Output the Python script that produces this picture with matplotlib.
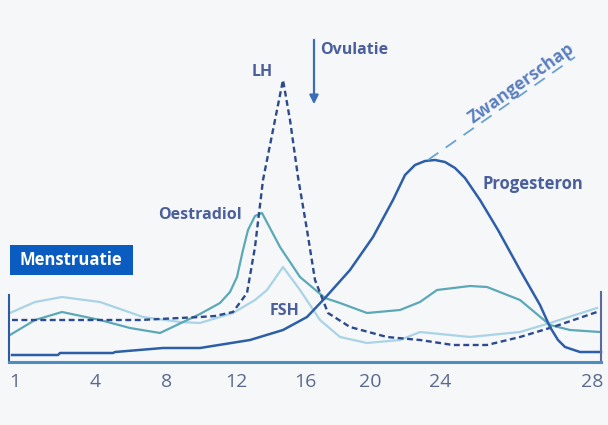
import matplotlib.pyplot as plt
from matplotlib.patches import Rectangle

# schematic cycle axis: positions along the chart, label = cycle day
tick_pos = [15, 95, 167, 236, 305, 370, 440, 592]
tick_labels = ['1', '4', '8', '12', '16', '20', '24', '28']

# hormone levels (arbitrary units)
prog_x = [12, 58, 60, 113, 115, 163, 200, 250, 283, 307, 325, 350, 373, 393, 405,
          415, 425, 435, 445, 455, 465, 480, 498, 520, 540, 550, 558, 565, 580, 601]
prog_y = [7, 7, 9, 9, 10, 14, 14, 22, 32, 45, 64, 92, 125, 162, 187,
          197, 201, 202, 200, 194, 184, 162, 132, 92, 57, 35, 22, 15, 10, 10]

lh_x = [12, 140, 200, 215, 233, 247, 255, 263, 274, 283, 290, 298, 307, 315,
        328, 350, 387, 420, 453, 487, 520, 553, 597]
lh_y = [42, 42, 45, 46, 50, 69, 115, 182, 237, 282, 242, 185, 132, 82,
        49, 35, 25, 22, 17, 17, 25, 35, 50]

oes_x = [10, 35, 62, 100, 130, 160, 200, 220, 230, 237, 243, 248, 255, 262, 280, 300, 325,
         340, 367, 400, 420, 437, 470, 487, 520, 550, 570, 600]
oes_y = [27, 42, 50, 42, 34, 29, 48, 59, 70, 85, 112, 132, 146, 149, 115, 85, 64,
         59, 49, 52, 60, 72, 76, 75, 62, 37, 32, 30]

fsh_x = [10, 35, 62, 100, 143, 180, 200, 233, 255, 267, 283, 300, 320, 340,
         367, 400, 420, 470, 520, 550, 597]
fsh_y = [49, 60, 65, 60, 45, 40, 39, 49, 62, 72, 95, 72, 42, 25,
         19, 22, 30, 25, 30, 39, 54]

preg_x = [428, 575]
preg_y = [202, 305]

bg = '#f6f7f9'
txt = '#4b5f9c'
font = ['Open Sans', 'DejaVu Sans']

fig = plt.figure(figsize=(6.08, 4.25), dpi=100, facecolor=bg)
ax = fig.add_axes([9/608, 63/425, 592/608, 362/425])
ax.set_facecolor(bg)
ax.set_xlim(9, 601)
ax.set_ylim(0, 362)

ax.plot(fsh_x, fsh_y, color='#a9d3e6', lw=1.6, clip_on=False)
ax.plot(oes_x, oes_y, color='#5ba8b6', lw=1.6, clip_on=False)
ax.plot(lh_x, lh_y, color='#2c4a8c', lw=1.7, ls=(0, (2.5, 1.5)), clip_on=False)
ax.plot(prog_x, prog_y, color='#2d5ea8', lw=1.8, clip_on=False)
ax.plot(preg_x, preg_y, color='#6aa2d4', lw=1.3, ls=(0, (7, 5)))

# spines
ax.spines['top'].set_visible(False)
ax.spines['bottom'].set_color('#4a8fc0')
ax.spines['bottom'].set_linewidth(2.2)
ax.spines['left'].set_color('#2f5aa0')
ax.spines['left'].set_linewidth(1.5)
ax.spines['left'].set_bounds(0, 67)
ax.spines['right'].set_color('#5a6a9a')
ax.spines['right'].set_linewidth(1.5)
ax.spines['right'].set_bounds(0, 70)

ax.set_yticks([])
ax.set_xticks(tick_pos, tick_labels)
ax.tick_params(axis='x', length=0, pad=8, labelcolor='#5b6a8c', labelsize=14)
for lbl in ax.get_xticklabels():
    lbl.set_family(font)

# menstruatie box
ax.add_patch(Rectangle((10, 87), 123, 30, facecolor='#0b5cc0', edgecolor='none', clip_on=False))
ax.text(71, 102, 'Menstruatie', color='white', fontsize=12, fontweight='bold',
        family=font, ha='center', va='center')

# ovulation arrow
ax.annotate('', xy=(314, 255), xytext=(314, 325),
            arrowprops=dict(arrowstyle='-|>', color='#3a6cb8', lw=1.6, mutation_scale=13))
ax.text(320, 312, 'Ovulatie', color=txt, fontsize=11.5, fontweight='bold', family=font,
        ha='left', va='center')

ax.text(262, 290, 'LH', color=txt, fontsize=11.5, fontweight='bold', family=font,
        ha='center', va='center')
ax.text(200, 147, 'Oestradiol', color=txt, fontsize=11.5, fontweight='bold', family=font,
        ha='center', va='center')
ax.text(285, 51, 'FSH', color=txt, fontsize=11.5, fontweight='bold', family=font,
        ha='center', va='center')
ax.text(483, 178, 'Progesteron', color=txt, fontsize=12, fontweight='bold', family=font,
        ha='left', va='center')
ax.text(521, 279, 'Zwangerschap', color='#5a7fc0', fontsize=12.5, fontweight='bold',
        family=font, ha='center', va='center', rotation=35.5, rotation_mode='anchor')

fig.savefig('out.png', dpi=100, facecolor=bg)
